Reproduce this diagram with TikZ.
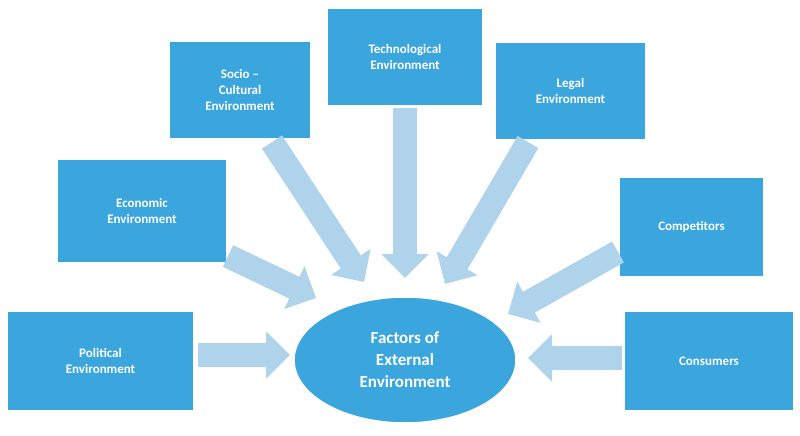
\documentclass[tikz,border=0pt]{standalone}
\usepackage{fontspec}
\setmainfont{Carlito}
\usetikzlibrary{arrows.meta,shapes.geometric}
\definecolor{boxblue}{RGB}{58,166,221}
\definecolor{arrowblue}{RGB}{176,211,236}
\tikzset{every picture/.style={line width=0.75pt}}

\begin{document}
\begin{tikzpicture}[x=1pt,y=-1pt,
  factorbox/.style={draw=white,line width=1.5pt,fill=boxblue,text=white,font=\bfseries\fontsize{13}{16}\selectfont,align=center,inner sep=0pt},
  blockarrow/.style={draw=arrowblue,line width=24pt,-{Triangle[width=46pt,length=24pt]}}]
  \useasboundingbox (0,0) rectangle (800,436);

  % Boxes
  \node [factorbox,minimum width=186,minimum height=99] (political) at (100.5,361) {Political\\Environment};
  \node [factorbox,minimum width=169,minimum height=103] (economic) at (142,211) {Economic\\Environment};
  \node [factorbox,minimum width=141,minimum height=98] (socio) at (240,90) {Socio --\\Cultural\\Environment};
  \node [factorbox,minimum width=155,minimum height=98] (techno) at (405,57) {Technological\\Environment};
  \node [factorbox,minimum width=150,minimum height=98] (legal) at (570.5,91) {Legal\\Environment};
  \node [factorbox,minimum width=144,minimum height=99] (competitors) at (691.5,227) {Competitors};
  \node [factorbox,minimum width=169,minimum height=99] (consumers) at (709,361) {Consumers};

  % Centre
  \node [ellipse,draw=white,line width=1.5pt,fill=boxblue,text=white,minimum width=222,minimum height=126,inner sep=0pt,align=center,font=\bfseries\fontsize{17}{22}\selectfont] (factors) at (405,360) {Factors of\\External\\Environment};

  % Arrows
  \coordinate (p1) at (198,355); \coordinate (p2) at (290,355);
  \coordinate (e1) at (228,256); \coordinate (e2) at (316,298);
  \coordinate (s1) at (272,142); \coordinate (s2) at (364,282);
  \coordinate (t1) at (405,108); \coordinate (t2) at (405,278);
  \coordinate (l1) at (528,142); \coordinate (l2) at (445,284);
  \coordinate (c1) at (618,252); \coordinate (c2) at (508,314);
  \coordinate (n1) at (622,358); \coordinate (n2) at (528,358);
  \foreach \a/\b in {p1/p2,e1/e2,s1/s2,t1/t2,l1/l2,c1/c2,n1/n2}
    \draw [blockarrow] (\a) -- (\b);
\end{tikzpicture}
\end{document}
